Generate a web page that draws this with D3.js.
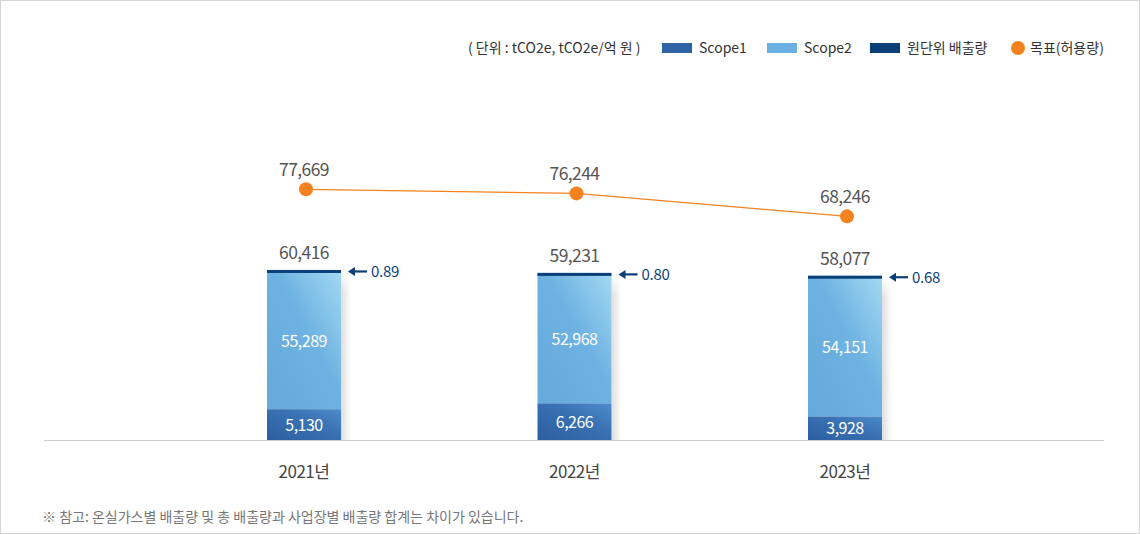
<!DOCTYPE html>
<html><head><meta charset="utf-8">
<script src="https://cdn.jsdelivr.net/npm/d3@7/dist/d3.min.js"></script>
<style>
html,body{margin:0;padding:0;background:#fff;}
svg{display:block;font-family:"Noto Sans CJK KR","Noto Sans",sans-serif;}
</style></head>
<body>
<svg id="chart" width="1140" height="534"></svg>
<script>
const years = ["2021년", "2022년", "2023년"];
const scope1 = [5130, 6266, 3928];
const scope2 = [55289, 52968, 54151];
const totals = [60416, 59231, 58077];
const intensity = ["0.89", "0.80", "0.68"];
const targets = [77669, 76244, 68246];
const legendItems = ["Scope1", "Scope2", "원단위 배출량", "목표(허용량)"];
const unitText = "( 단위 : tCO2e, tCO2e/억 원 )";
const noteText = "※ 참고: 온실가스별 배출량 및 총 배출량과 사업장별 배출량 합계는 차이가 있습니다.";

const C = {s1:"#2e64a4", s2:"#6cb0e1", inten:"#0b3f78", target:"#f5821f"};
const fmt = d3.format(",");

const svg = d3.select("#chart");
svg.append("rect").attr("x",0.5).attr("y",0.5).attr("width",1139).attr("height",533)
  .attr("fill","#fff").attr("stroke","#d6d6d6");

const defs = svg.append("defs");
const g2 = defs.append("linearGradient").attr("id","gS2").attr("x1","0").attr("y1","1").attr("x2","1").attr("y2","0");
g2.append("stop").attr("offset","0").attr("stop-color","#66a9dc");
g2.append("stop").attr("offset","0.55").attr("stop-color","#6db2e2");
g2.append("stop").attr("offset","1").attr("stop-color","#a3d9f2");
const g1 = defs.append("linearGradient").attr("id","gS1").attr("x1","0").attr("y1","1").attr("x2","1").attr("y2","0");
g1.append("stop").attr("offset","0").attr("stop-color","#2b5e9f");
g1.append("stop").attr("offset","0.6").attr("stop-color","#3a72b4");
g1.append("stop").attr("offset","1").attr("stop-color","#4d8ccb");
const gsh = defs.append("linearGradient").attr("id","gSh").attr("x1","0").attr("y1","0").attr("x2","1").attr("y2","0");
gsh.append("stop").attr("offset","0").attr("stop-color","#000").attr("stop-opacity",0.13);
gsh.append("stop").attr("offset","1").attr("stop-color","#000").attr("stop-opacity",0);
const gshv = defs.append("linearGradient").attr("id","gShV").attr("x1","0").attr("y1","0").attr("x2","0").attr("y2","1");
gshv.append("stop").attr("offset","0").attr("stop-color","#fff").attr("stop-opacity",0);
gshv.append("stop").attr("offset","0.12").attr("stop-color","#fff").attr("stop-opacity",1);
gshv.append("stop").attr("offset","1").attr("stop-color","#fff").attr("stop-opacity",1);
defs.append("mask").attr("id","mSh").attr("maskContentUnits","objectBoundingBox")
  .append("rect").attr("width",1).attr("height",1).attr("fill","url(#gShV)");

const x = d3.scalePoint().domain(years).range([304, 845]);
const barW = 74;
// bar scale (scope1 segment visually enlarged, as in the original)
const yBar = d3.scaleLinear().domain([0, 6000, 60000]).range([440, 404, 271]);
// target line scale
const yT = d3.scaleLinear().domain([60000, 80000]).range([240, 182.6]);

svg.append("line").attr("x1",44).attr("x2",1104).attr("y1",440.5).attr("y2",440.5)
  .attr("stroke","#cfcfcf").attr("stroke-width",1);

const data = years.map((y,i)=>({year:y, s1:scope1[i], s2:scope2[i], total:totals[i], inten:intensity[i], target:targets[i]}));

const bars = svg.append("g");
data.forEach(d=>{
  const cx = x(d.year), x0 = cx - barW/2;
  const yTop = yBar(d.total), yS1 = yBar(d.s1);
  bars.append("rect").attr("x",x0+barW).attr("y",yTop+2).attr("width",10).attr("height",440-yTop-2)
    .attr("fill","url(#gSh)").attr("mask","url(#mSh)");
  bars.append("rect").attr("x",x0).attr("y",yTop).attr("width",barW).attr("height",yS1-yTop).attr("fill","url(#gS2)");
  bars.append("rect").attr("x",x0).attr("y",yS1).attr("width",barW).attr("height",440-yS1).attr("fill","url(#gS1)");
  bars.append("rect").attr("x",x0).attr("y",yTop).attr("width",barW).attr("height",3).attr("fill",C.inten);
  const ay = yTop + 1.5;
  bars.append("line").attr("x1",x0+barW+13).attr("x2",x0+barW+26).attr("y1",ay).attr("y2",ay)
    .attr("stroke",C.inten).attr("stroke-width",2.2);
  bars.append("path").attr("d",`M${x0+barW+7},${ay} L${x0+barW+14},${ay-4.5} L${x0+barW+14},${ay+4.5} Z`).attr("fill",C.inten);
  bars.append("text").attr("x",x0+barW+30).attr("y",ay).attr("dy","0.36em")
    .attr("font-size",15).attr("fill",C.inten).attr("letter-spacing","-0.3").text(d.inten);
  bars.append("text").attr("x",cx).attr("y",yTop-11).attr("text-anchor","middle")
    .attr("font-size",17.5).attr("fill","#555").attr("letter-spacing","-0.6").text(fmt(d.total));
  bars.append("text").attr("x",cx).attr("y",(yTop+3+yS1)/2).attr("dy","0.36em").attr("text-anchor","middle")
    .attr("font-size",16).attr("fill","#fff").attr("letter-spacing","-0.5").text(fmt(d.s2));
  bars.append("text").attr("x",cx).attr("y",(yS1+440)/2).attr("dy","0.38em").attr("text-anchor","middle")
    .attr("font-size",16).attr("fill","#fff").attr("letter-spacing","-0.5").text(fmt(d.s1));
  bars.append("text").attr("x",cx).attr("y",478).attr("text-anchor","middle")
    .attr("font-size",17).attr("fill","#444").attr("letter-spacing","-0.5").text(d.year);
});

const tx = d => x(d.year) + 2;
svg.append("path").datum(data)
  .attr("d", d3.line().x(tx).y(d=>yT(d.target)))
  .attr("fill","none").attr("stroke",C.target).attr("stroke-width",1.2);
svg.selectAll(".tdot").data(data).join("circle")
  .attr("cx",tx).attr("cy",d=>yT(d.target)).attr("r",7).attr("fill",C.target);
svg.selectAll(".tlab").data(data).join("text")
  .attr("x",d=>x(d.year)).attr("y",d=>yT(d.target)-13).attr("text-anchor","middle")
  .attr("font-size",17.5).attr("fill","#555").attr("letter-spacing","-0.6").text(d=>fmt(d.target));

const lg = svg.append("g").attr("font-size",14).attr("fill","#333");
lg.append("text").attr("x",468).attr("y",48).attr("dy","0.36em").text(unitText);
const sw = [{x:662, c:C.s1},{x:767, c:C.s2},{x:870, c:C.inten}];
sw.forEach((s,i)=>{
  lg.append("rect").attr("x",s.x).attr("y",43).attr("width",30).attr("height",10).attr("fill",s.c);
  lg.append("text").attr("x",s.x+37).attr("y",48).attr("dy","0.36em").text(legendItems[i]);
});
lg.append("circle").attr("cx",1018).attr("cy",48).attr("r",7).attr("fill",C.target);
lg.append("text").attr("x",1030).attr("y",48).attr("dy","0.36em").text(legendItems[3]);

svg.append("text").attr("x",42).attr("y",517).attr("dy","0.36em").attr("font-size",14)
  .attr("fill","#777").text(noteText);
</script>
</body></html>
